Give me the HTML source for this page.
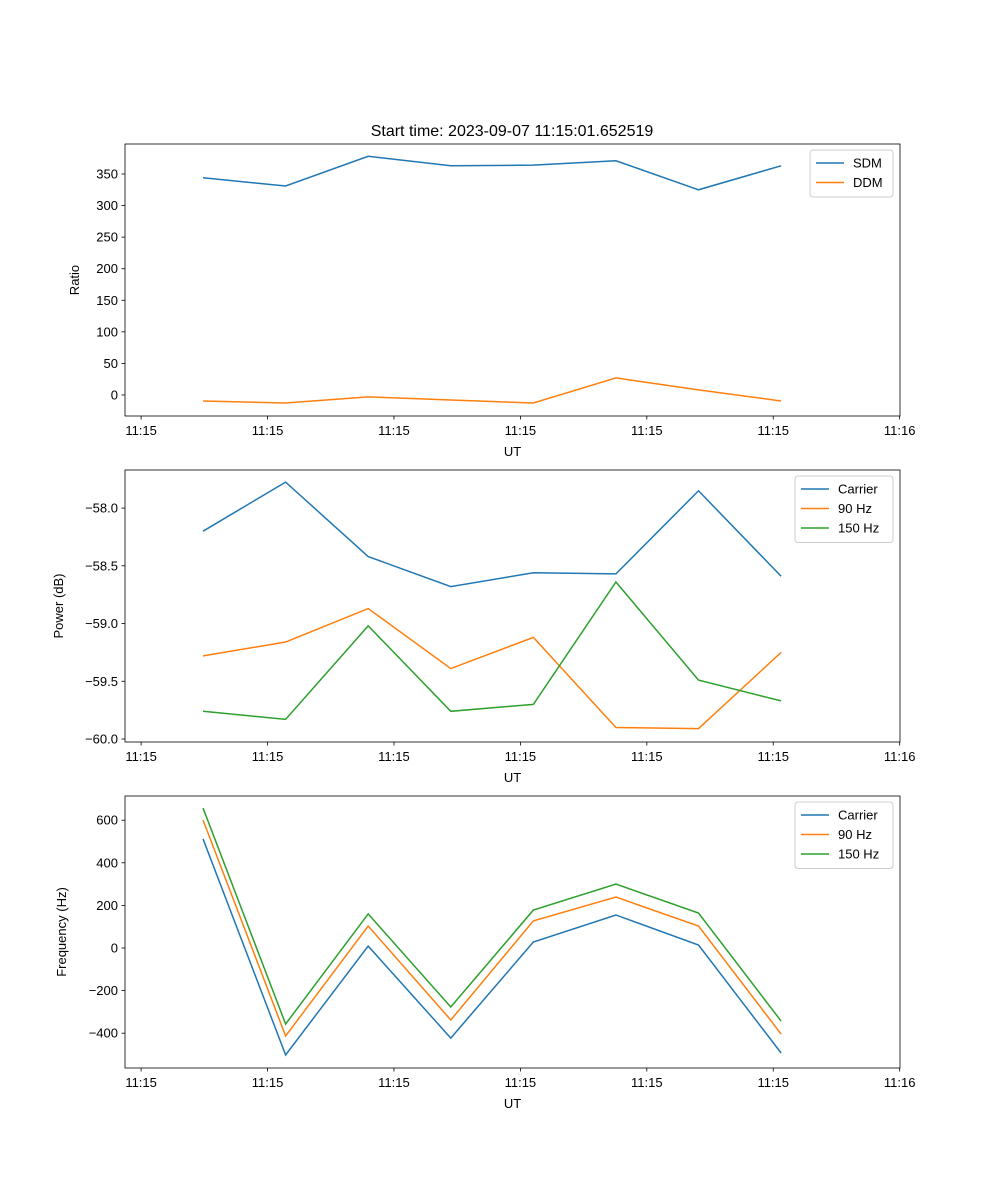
<!DOCTYPE html>
<html><head><meta charset="utf-8"><style>body{margin:0;background:#fff}svg{display:block}text{font-family:"Liberation Sans","DejaVu Sans",sans-serif;fill:#000}</style></head>
<body>
<svg id="fig" width="1000" height="1200" viewBox="0 0 1000 1200">
<text x="512" y="136" font-size="16" text-anchor="middle">Start time: 2023-09-07 11:15:01.652519</text>
</svg>
<script>
const xTickLabels = ["11:15","11:15","11:15","11:15","11:15","11:15","11:16"];
const sdm = [344,331,378,363,364,371,325,363];
const ddm = [-9.5,-12.7,-3,-8,-12.7,27,8,-9.5];
const pCarrier = [-58.2,-57.775,-58.42,-58.68,-58.56,-58.57,-57.85,-58.59];
const p90 = [-59.28,-59.16,-58.87,-59.39,-59.12,-59.9,-59.91,-59.25];
const p150 = [-59.76,-59.83,-59.02,-59.76,-59.7,-58.64,-59.49,-59.67];
const fCarrier = [512,-502,9,-423,28,155,14,-493];
const f90 = [601,-413,103,-338,127,239,103,-404];
const f150 = [657,-357,160,-277,178,300,164,-343];
const ratioTicks = [0,50,100,150,200,250,300,350];
const powerTicks = [-60.0,-59.5,-59.0,-58.5,-58.0];
const freqTicks = [-400,-200,0,200,400,600];

const NS="http://www.w3.org/2000/svg";
const svg=document.getElementById('fig');
const C=['#1f77b4','#ff7f0e','#2ca02c'];
const L=125,R=900,xmin=-0.945,xmax=8.44;
const xs=i=>L+(i-xmin)/(xmax-xmin)*(R-L);
function mk(tag,attrs,parent){const e=document.createElementNS(NS,tag);for(const k in attrs)e.setAttribute(k,attrs[k]);(parent||svg).appendChild(e);return e;}
function panel(name,top,bot,ymin,ymax,yticks,fmt,ylabel,series,names,legW,yx){
  const g=mk('g',{});
  
  
  const ys=v=>bot-(v-ymin)/(ymax-ymin)*(bot-top);
  series.forEach((s,k)=>{
    const p=mk('polyline',{points:s.map((v,i)=>xs(i)+','+ys(v)).join(' '),fill:'none',stroke:C[k],'stroke-width':1.5},g);
    
    
  });
  const fr=mk('rect',{x:L,y:top,width:R-L,height:bot-top,fill:'none',stroke:'#000','stroke-width':0.8},g);
  
  
  yticks.forEach(v=>{const y=ys(v);mk('line',{x1:L-3.5,x2:L,y1:y,y2:y,stroke:'#000','stroke-width':0.8},g);
    const t=mk('text',{x:L-7,y:y+4.5,'font-size':13,'text-anchor':'end'},g);t.textContent=fmt(v);
    
    });
  xTickLabels.forEach((lab,k)=>{const i=-0.75+1.531*k;const x=xs(i);mk('line',{x1:x,x2:x,y1:bot,y2:bot+3.5,stroke:'#000','stroke-width':0.8},g);
    const t=mk('text',{x:x,y:bot+19,'font-size':13,'text-anchor':'middle'},g);t.textContent=lab;
    
    });
  const xl=mk('text',{x:(L+R)/2,y:bot+40,'font-size':13,'text-anchor':'middle'},g);xl.textContent='UT';
  
  
  const ym=(top+bot)/2;
  const yl=mk('text',{x:yx,y:ym,'font-size':13,'text-anchor':'middle',transform:`rotate(-90 ${yx} ${ym})`},g);yl.textContent=ylabel;
  
  
  const lx=R-7-legW,ly=top+6,lh=8+names.length*19.5;
  const lg=mk('g',{},g);
  
  
  mk('rect',{x:lx,y:ly,width:legW,height:lh,rx:3,fill:'#fff','fill-opacity':0.8,stroke:'#ccc'},lg);
  names.forEach((n,k)=>{const y=ly+13+k*19.5;mk('line',{x1:lx+6,x2:lx+34,y1:y,y2:y,stroke:C[k],'stroke-width':1.5},lg);
    const t=mk('text',{x:lx+43,y:y+4.5,'font-size':13},lg);t.textContent=n;
    
    });
}
const uni=s=>s.replace('-','\u2212');
panel('ratio',144,416,-33.3,397.5,ratioTicks,v=>uni(String(v)),'Ratio',[sdm,ddm],['SDM','DDM'],83,79);
panel('power',470,742,-60.026,-57.67,powerTicks,v=>uni(v.toFixed(1)),'Power (dB)',[pCarrier,p90,p150],['Carrier','90 Hz','150 Hz'],98,63);
panel('frequency',796,1068,-563.4,713.6,freqTicks,v=>uni(String(v)),'Frequency (Hz)',[fCarrier,f90,f150],['Carrier','90 Hz','150 Hz'],98,66);
</script>
</body></html>
